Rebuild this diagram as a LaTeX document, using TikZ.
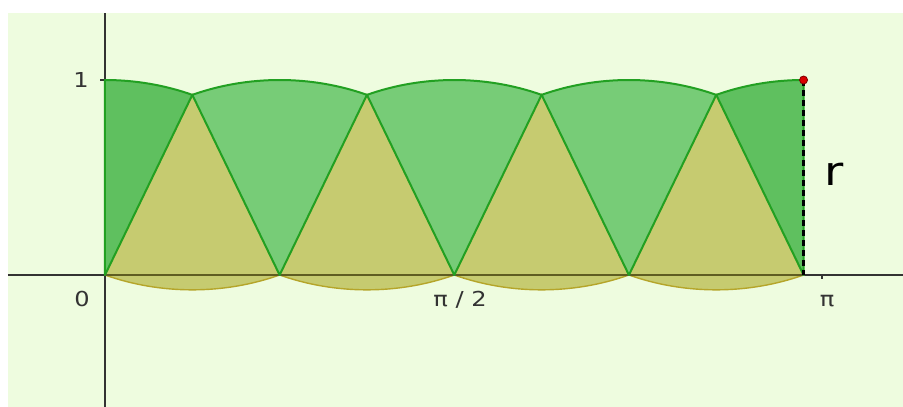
\documentclass[tikz,border=0pt]{standalone}
\usepackage{graphicx}
\usepackage{fontspec}
\setmainfont{DejaVu Sans}
\definecolor{bgcol}{HTML}{EEFCDF}
\definecolor{sectgreen}{HTML}{77CC77}
\definecolor{endgreen}{HTML}{5FC05F}
\definecolor{triyellow}{HTML}{C6CB70}
\definecolor{edgegreen}{HTML}{22A022}
\definecolor{arcolive}{HTML}{B5A52A}
\definecolor{axisgray}{HTML}{333333}
\definecolor{axisolive}{HTML}{5F5D22}
\newcommand{\wide}[1]{\scalebox{1.17}[1]{#1}}
\tikzset{
  ticklabel/.style={font=\fontsize{10.3}{12}\selectfont, text=axisgray, inner sep=0pt, anchor=base},
  sector/.style={fill=sectgreen, draw=edgegreen, line width=1pt, line join=round},
  endsector/.style={sector, fill=endgreen},
  trisector/.style={fill=triyellow, draw=arcolive, line width=0.7pt},
}
\begin{document}
\begin{tikzpicture}[x=114.1pt,y=97.5pt]
\pgfmathsetmacro{\chord}{2*sin(22.5)}
\pgfmathsetmacro{\hgt}{cos(22.5)}
\useasboundingbox (-0.4601,-0.6769) rectangle (3.4970,1.4103);
%draw background
\fill[bgcol] (-0.4251,-0.6769) rectangle (3.4970,1.3436);
%draw axes
\draw[axisgray, line width=0.8pt] (-0.4251,0) -- (3.4970,0);
\draw[axisgray, line width=0.8pt] (0,-0.6769) -- (0,1.3436);
%draw ticks
\draw[axisgray, line width=0.7pt] (0,1) -- ++(-2.5pt,0);
\draw[axisgray, line width=0.7pt] ({pi/2},0) -- ++(0,-2pt);
\draw[axisgray, line width=0.7pt] ({pi},0) -- ++(0,-2pt);
%draw tick labels
\draw (-0.105,0.959) node[ticklabel] (one) {\wide{1}};
\draw (-0.1008,-0.164) node[ticklabel] (zero) {\wide{0}};
\draw (1.5557,-0.164) node[ticklabel] (halfpi) {\wide{π / 2}};
\draw (3.164,-0.164) node[ticklabel] (fullpi) {\wide{π}};
%
%sectors pointing up
\foreach \i in {0,...,3} {
  \filldraw[trisector] ({(\i+0.5)*\chord},\hgt) -- ({\i*\chord},0)
    arc[start angle=247.5, end angle=292.5, radius=1] -- cycle;
}
\draw[axisolive, line width=0.8pt] (0,0) -- ({4*\chord},0);
%sectors pointing down
\foreach \i in {1,2,3} {
  \filldraw[sector] ({\i*\chord},0) -- ++(67.5:1)
    arc[start angle=67.5, end angle=112.5, radius=1] -- cycle;
}
%half sectors at the ends
\filldraw[endsector] (0,0) -- (0,1) arc[start angle=90, end angle=67.5, radius=1] -- cycle;
\filldraw[endsector] ({4*\chord},0) -- ++(90:1) arc[start angle=90, end angle=112.5, radius=1] -- cycle;
%
\coordinate (tip) at ({4*\chord},1);
\coordinate (foot) at ({4*\chord},0);
\draw[black, line width=1.3pt, dash pattern=on 3pt off 2pt] (tip) -- (foot);
\filldraw[fill=red!85!black, draw=red!50!black, line width=0.4pt] (tip) circle[radius=2pt];
\draw (3.1946,0.4615) node[font=\fontsize{20}{24}\selectfont, inner sep=0pt, anchor=base] (rlabel) {\wide{r}};
% \draw (tip) node[above] {$r$};

\end{tikzpicture}
\end{document}
